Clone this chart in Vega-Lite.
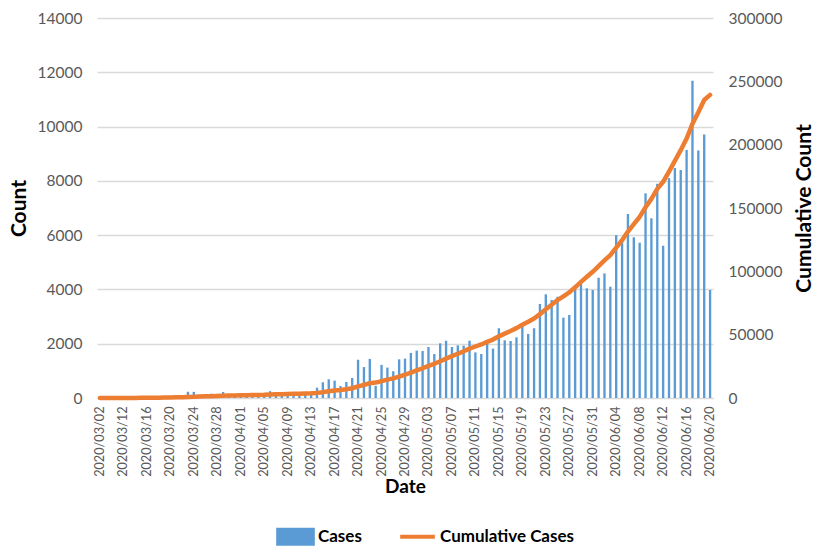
{
  "$schema": "https://vega.github.io/schema/vega-lite/v6.json",
  "width": 616,
  "height": 380,
  "autosize": {"type": "none"},
  "padding": {"left": 97, "top": 18, "right": 101, "bottom": 149},
  "background": "white",
  "config": {
    "view": {"stroke": null},
    "font": "Lato",
    "axis": {"labelFont": "Lato", "titleFont": "Lato", "labelColor": "#595959", "titleColor": "#000000", "titleFontWeight": "bold", "titleFontSize": 19, "ticks": false}
  },
  "data": {"values": [
    {"d":"2020/03/02","c":1,"cum":1},
    {"d":"2020/03/09","c":5,"cum":6},
    {"d":"2020/03/10","c":10,"cum":16},
    {"d":"2020/03/11","c":8,"cum":24},
    {"d":"2020/03/12","c":15,"cum":39},
    {"d":"2020/03/13","c":20,"cum":59},
    {"d":"2020/03/14","c":25,"cum":84},
    {"d":"2020/03/15","c":30,"cum":114},
    {"d":"2020/03/16","c":40,"cum":154},
    {"d":"2020/03/17","c":50,"cum":204},
    {"d":"2020/03/18","c":60,"cum":264},
    {"d":"2020/03/19","c":70,"cum":334},
    {"d":"2020/03/20","c":80,"cum":414},
    {"d":"2020/03/21","c":90,"cum":504},
    {"d":"2020/03/22","c":100,"cum":604},
    {"d":"2020/03/23","c":230,"cum":834},
    {"d":"2020/03/24","c":225,"cum":1059},
    {"d":"2020/03/25","c":120,"cum":1179},
    {"d":"2020/03/26","c":110,"cum":1289},
    {"d":"2020/03/27","c":160,"cum":1449},
    {"d":"2020/03/28","c":150,"cum":1599},
    {"d":"2020/03/29","c":220,"cum":1819},
    {"d":"2020/03/30","c":100,"cum":1919},
    {"d":"2020/03/31","c":110,"cum":2029},
    {"d":"2020/04/01","c":90,"cum":2119},
    {"d":"2020/04/02","c":120,"cum":2239},
    {"d":"2020/04/03","c":110,"cum":2349},
    {"d":"2020/04/04","c":100,"cum":2449},
    {"d":"2020/04/05","c":130,"cum":2579},
    {"d":"2020/04/06","c":250,"cum":2829},
    {"d":"2020/04/07","c":110,"cum":2939},
    {"d":"2020/04/08","c":100,"cum":3039},
    {"d":"2020/04/09","c":120,"cum":3159},
    {"d":"2020/04/10","c":110,"cum":3269},
    {"d":"2020/04/11","c":120,"cum":3389},
    {"d":"2020/04/12","c":130,"cum":3519},
    {"d":"2020/04/13","c":140,"cum":3659},
    {"d":"2020/04/14","c":380,"cum":4039},
    {"d":"2020/04/15","c":580,"cum":4619},
    {"d":"2020/04/16","c":690,"cum":5309},
    {"d":"2020/04/17","c":640,"cum":5949},
    {"d":"2020/04/18","c":440,"cum":6389},
    {"d":"2020/04/19","c":590,"cum":6979},
    {"d":"2020/04/20","c":740,"cum":7719},
    {"d":"2020/04/21","c":1410,"cum":9129},
    {"d":"2020/04/22","c":1140,"cum":10269},
    {"d":"2020/04/23","c":1440,"cum":11709},
    {"d":"2020/04/24","c":450,"cum":12159},
    {"d":"2020/04/25","c":1220,"cum":13379},
    {"d":"2020/04/26","c":1120,"cum":14499},
    {"d":"2020/04/27","c":985,"cum":15484},
    {"d":"2020/04/28","c":1425,"cum":16909},
    {"d":"2020/04/29","c":1450,"cum":18359},
    {"d":"2020/04/30","c":1660,"cum":20019},
    {"d":"2020/05/01","c":1745,"cum":21764},
    {"d":"2020/05/02","c":1730,"cum":23494},
    {"d":"2020/05/03","c":1880,"cum":25374},
    {"d":"2020/05/04","c":1620,"cum":26994},
    {"d":"2020/05/05","c":2015,"cum":29009},
    {"d":"2020/05/06","c":2110,"cum":31119},
    {"d":"2020/05/07","c":1880,"cum":32999},
    {"d":"2020/05/08","c":1940,"cum":34939},
    {"d":"2020/05/09","c":1930,"cum":36869},
    {"d":"2020/05/10","c":2110,"cum":38979},
    {"d":"2020/05/11","c":1680,"cum":40659},
    {"d":"2020/05/12","c":1620,"cum":42279},
    {"d":"2020/05/13","c":2015,"cum":44294},
    {"d":"2020/05/14","c":1820,"cum":46114},
    {"d":"2020/05/15","c":2570,"cum":48684},
    {"d":"2020/05/16","c":2125,"cum":50809},
    {"d":"2020/05/17","c":2100,"cum":52909},
    {"d":"2020/05/18","c":2235,"cum":55144},
    {"d":"2020/05/19","c":2650,"cum":57794},
    {"d":"2020/05/20","c":2360,"cum":60154},
    {"d":"2020/05/21","c":2570,"cum":62724},
    {"d":"2020/05/22","c":3465,"cum":66189},
    {"d":"2020/05/23","c":3820,"cum":70009},
    {"d":"2020/05/24","c":3610,"cum":73619},
    {"d":"2020/05/25","c":3730,"cum":77349},
    {"d":"2020/05/26","c":2960,"cum":80309},
    {"d":"2020/05/27","c":3060,"cum":83369},
    {"d":"2020/05/28","c":4020,"cum":87389},
    {"d":"2020/05/29","c":4260,"cum":91649},
    {"d":"2020/05/30","c":4040,"cum":95689},
    {"d":"2020/05/31","c":3980,"cum":99669},
    {"d":"2020/06/01","c":4430,"cum":104099},
    {"d":"2020/06/02","c":4590,"cum":108689},
    {"d":"2020/06/03","c":4100,"cum":112789},
    {"d":"2020/06/04","c":6000,"cum":118789},
    {"d":"2020/06/05","c":5820,"cum":124609},
    {"d":"2020/06/06","c":6780,"cum":131389},
    {"d":"2020/06/07","c":5920,"cum":137309},
    {"d":"2020/06/08","c":5720,"cum":143029},
    {"d":"2020/06/09","c":7540,"cum":150569},
    {"d":"2020/06/10","c":6620,"cum":157189},
    {"d":"2020/06/11","c":7890,"cum":165079},
    {"d":"2020/06/12","c":5610,"cum":170689},
    {"d":"2020/06/13","c":8100,"cum":178789},
    {"d":"2020/06/14","c":8475,"cum":187264},
    {"d":"2020/06/15","c":8400,"cum":195664},
    {"d":"2020/06/16","c":9140,"cum":204804},
    {"d":"2020/06/17","c":11690,"cum":216494},
    {"d":"2020/06/18","c":9120,"cum":225614},
    {"d":"2020/06/19","c":9710,"cum":235324},
    {"d":"2020/06/20","c":3980,"cum":239304}
  ]},
  "encoding": {
    "x": {
      "field": "d", "type": "nominal", "sort": null,
      "scale": {"paddingInner": 0.6, "paddingOuter": 0.3},
      "axis": {
        "title": "Date", "labelAngle": -90, "labelFontSize": 12.7, "labelPadding": 8, "titlePadding": 1,
        "domainColor": "#d9d9d9", "grid": false,
        "values": ["2020/03/02","2020/03/12","2020/03/16","2020/03/20","2020/03/24","2020/03/28","2020/04/01","2020/04/05","2020/04/09","2020/04/13","2020/04/17","2020/04/21","2020/04/25","2020/04/29","2020/05/03","2020/05/07","2020/05/11","2020/05/15","2020/05/19","2020/05/23","2020/05/27","2020/05/31","2020/06/04","2020/06/08","2020/06/12","2020/06/16","2020/06/20"]
      }
    }
  },
  "layer": [
    {
      "mark": {"type": "bar"},
      "encoding": {
        "y": {
          "field": "c", "type": "quantitative",
          "scale": {"domain": [0, 14000], "nice": false},
          "axis": {"title": "Count", "titleFontSize": 21, "values": [0,2000,4000,6000,8000,10000,12000,14000], "format": "d", "labelFontSize": 15.5, "labelPadding": 15, "titlePadding": 8, "domain": false, "grid": true, "gridColor": "#d9d9d9", "gridWidth": 1.3}
        },
        "color": {
          "datum": "Cases",
          "scale": {"domain": ["Cases", "Cumulative Cases"], "range": ["#5B9BD5", "#ED7D31"]},
          "legend": {
            "title": null, "orient": "none", "direction": "horizontal", "legendX": 179, "legendY": 499,
            "padding": 0, "labelFont": "Lato", "labelFontSize": 17, "labelFontWeight": "bold", "labelColor": "#000000",
            "labelOffset": 3, "columnPadding": 30, "symbolSize": 1200,
            "encode": {
              "symbols": {"update": {
                "shape": {"signal": "datum.value === 'Cases' ? 'M-1,-0.4H1V0.4H-1Z' : 'M-1,-0.4M-1,0H1M1,0.4'"},
                "fill": {"signal": "datum.value === 'Cases' ? '#5B9BD5' : 'transparent'"},
                "stroke": {"signal": "datum.value === 'Cases' ? 'transparent' : '#ED7D31'"},
                "strokeWidth": {"value": 4},
                "opacity": {"value": 1}
              }}
            }
          }
        }
      }
    },
    {
      "mark": {"type": "line", "strokeWidth": 4.5, "strokeCap": "round", "strokeJoin": "round"},
      "encoding": {
        "y": {
          "field": "cum", "type": "quantitative",
          "scale": {"domain": [0, 300000], "nice": false},
          "axis": {"title": "Cumulative Count", "titleFontSize": 21, "titleAngle": 270, "titleBaseline": "top", "orient": "right", "values": [0,50000,100000,150000,200000,250000,300000], "format": "d", "labelFontSize": 15.5, "labelPadding": 15, "titlePadding": 12, "domain": false, "grid": false}
        },
        "color": {"datum": "Cumulative Cases"}
      }
    }
  ],
  "resolve": {"scale": {"y": "independent"}}
}
